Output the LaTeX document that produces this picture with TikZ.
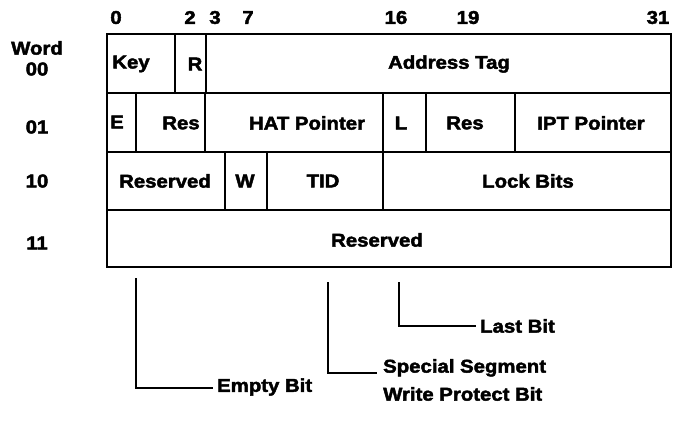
\documentclass[tikz,border=0pt]{standalone}
\usepackage{fontspec}
\setmainfont[FakeStretch=1.1,FakeBold=2.4]{Liberation Sans}
\begin{document}
\begin{tikzpicture}[x=1pt,y=-1pt,
  lbl/.style={font=\bfseries\fontsize{18.5}{28}\selectfont, inner sep=0pt},
  box/.style={line width=1.5pt},
  call/.style={line width=1.1pt}]
\useasboundingbox (0,0) rectangle (673,432);
% frame
\draw[box] (107,34) rectangle (671,267);
\draw[box] (107,93) -- (671,93);
\draw[box] (107,152) -- (671,152);
\draw[box] (107,210) -- (671,210);
% row 00
\draw[box] (175,34) -- (175,93);
\draw[box] (206,34) -- (206,93);
% row 01
\draw[box] (136,93) -- (136,152);
\draw[box] (205,93) -- (205,152);
\draw[box] (383,93) -- (383,152);
\draw[box] (426,93) -- (426,152);
\draw[box] (515,93) -- (515,152);
% row 10
\draw[box] (225,152) -- (225,210);
\draw[box] (267,152) -- (267,210);
\draw[box] (383,152) -- (383,210);
% bit numbers
\node[lbl] (b0) at (116,17.5) {0};
\node[lbl] (b2) at (190,17.5) {2};
\node[lbl] (b3) at (215,17.5) {3};
\node[lbl] (b7) at (248,17.5) {7};
\node[lbl] (b16) at (396,17.5) {16};
\node[lbl] (b19) at (468,17.5) {19};
\node[lbl] (b31) at (658,17.5) {31};
% word labels
\node[lbl] (word) at (37,48) {Word};
\node[lbl] (w00) at (37,69) {00};
\node[lbl] (w01) at (37,127) {01};
\node[lbl] (w10) at (37,181) {10};
\node[lbl] (w11) at (37,243) {11};
% row 00 fields
\node[lbl] (key) at (131,64) {Key};
\node[lbl] (r) at (195,64) {R};
\node[lbl] (addr) at (449,64) {Address Tag};
% row 01
\node[lbl] (e) at (117,122) {E};
\node[lbl] (res1) at (181,123) {Res};
\node[lbl] (hat) at (307,123) {HAT Pointer};
\node[lbl] (l) at (401,123) {L};
\node[lbl] (res2) at (465,123) {Res};
\node[lbl] (ipt) at (591,123) {IPT Pointer};
% row 10
\node[lbl] (resv1) at (165,181) {Reserved};
\node[lbl] (w) at (245,181) {W};
\node[lbl] (tid) at (323,181) {TID};
\node[lbl] (lock) at (528,181) {Lock Bits};
% row 11
\node[lbl] (resv2) at (377,240) {Reserved};
% callouts
\node[lbl, anchor=west] (last) at (480,326) {Last Bit};
\node[lbl, anchor=west, align=left] (ssw) at (383,380) {Special Segment\\Write Protect Bit};
\node[lbl, anchor=west] (empty) at (217,387) {Empty Bit};
\coordinate (lb0) at (399,282);
\coordinate (ss0) at (328,282);
\coordinate (eb0) at (136,278);
\draw[call] (lb0) |- ([xshift=-4pt]last.west);
\draw[call] (ss0) |- ([xshift=-6pt,yshift=7pt]ssw.west);
\draw[call] (eb0) |- ([xshift=-4pt,yshift=-1pt]empty.west);
\end{tikzpicture}
\end{document}
